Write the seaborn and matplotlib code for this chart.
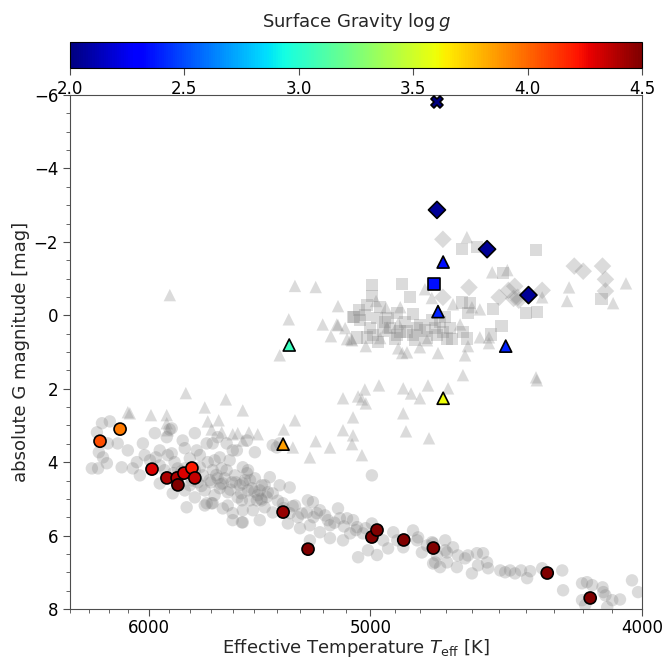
import numpy as np
import pandas as pd
import matplotlib
matplotlib.use("Agg")
import matplotlib.pyplot as plt
import matplotlib.ticker as mticker
import seaborn as sns

# --- background sample (grey) : Teff [K], absolute G mag ---
circ_teff = [6234, 6194, 6260, 6250, 6229, 6209, 6286, 6254, 6204, 6154, 6134, 6103, 6078, 6043, 6028,
             5969, 5964, 5945, 5911, 5897, 5887, 5882, 5815, 5834, 5824, 5776, 5767, 5752, 5720, 5692,
             5692, 5659, 5645, 5627, 5599, 5580, 5553, 5557, 5534, 5529, 5887, 5720, 5669, 5627, 5599,
             5534, 5498, 5418, 5400, 5387, 5729, 5697, 5645, 5599, 5557,
             5993, 5945, 5921, 5873, 5849, 5824, 5800, 5776, 5762, 5752, 5738, 5729, 5715, 5706, 5692,
             5683, 5669, 5659, 5650, 5636, 5622, 5613, 5603, 5589, 5576, 5566, 5553, 5543, 5520, 5511,
             5498, 5485, 5683, 5800, 5858, 5906, 5945, 6019, 6058, 5824, 5776, 5622, 5467, 5454, 5440,
             5529, 5553, 5520, 5467, 5431, 5387, 5343, 5489, 5454, 5553, 5476, 5418, 5351, 5307, 5298,
             5264, 5242, 5255, 5225, 5212, 5169, 5169, 5135, 5097, 5084, 5055, 5051, 5031, 5010, 4994,
             4994, 4973, 4948, 4928, 4907, 4891, 4867, 4828, 4812, 4793, 4773, 4753, 4734, 4749, 4808,
             5476, 5507, 5418, 5343, 5268, 5178, 5072, 5373, 5320, 5212, 5127, 5255, 5114,
             4749, 4702, 4702, 4672, 4741, 4722, 4695, 4653, 4657, 4626, 4615, 4581, 4558, 4577, 4543,
             4539, 4600, 4476, 4458, 4440, 4418, 4396, 4385, 4342, 4271, 4268, 4202, 4185, 4167, 4132,
             4129, 4122, 4099, 4073, 4202, 4191, 4116, 4033, 4013, 4494, 4695,
             5880, 5860, 5840, 5790, 5745, 5700, 5675, 5655, 5610, 5585, 5560, 5500, 5470, 5445, 5395,
             5370, 5330, 5290, 5240, 5190, 5150, 5110, 5060, 5020]
circ_mag = [2.94, 2.89, 3.19, 3.73, 3.87, 4.03, 4.17, 4.17, 3.49, 3.49, 4.14, 3.68, 4.17, 4.36, 3.49,
            3.21, 3.87, 4.58, 3.32, 3.11, 3.76, 4.85, 5.23, 3.41, 3.62, 3.21, 3.68, 4.14, 5.12, 3.49,
            5.12, 3.87, 4.58, 4.22, 5.39, 3.68, 5.64, 5.04, 4.30, 4.77, 3.08, 3.49, 3.32, 3.49, 3.68,
            3.41, 3.73, 3.54, 3.60, 3.49, 5.18, 5.12, 5.26, 5.58, 5.64,
            3.95, 4.09, 4.22, 4.00, 4.36, 4.17, 3.90, 4.22, 4.55, 3.81, 4.36, 4.77, 4.00, 4.49, 4.22,
            4.90, 4.44, 4.71, 4.17, 4.44, 4.82, 3.95, 4.55, 4.36, 4.96, 4.63, 4.14, 4.49, 5.04, 4.71,
            4.44, 4.90, 3.95, 4.63, 4.17, 3.81, 3.68, 3.81, 4.00, 4.77, 4.96, 5.18, 5.04, 4.63, 4.82,
            4.22, 4.58, 4.49, 4.63, 4.41, 4.63, 4.69, 5.04, 5.23, 5.31, 5.58, 5.37, 5.67, 5.50, 5.80,
            5.04, 5.09, 5.72, 5.39, 5.91, 5.72, 6.07, 5.26, 5.53, 5.94, 5.77, 6.59, 5.94, 6.40, 5.67,
            4.36, 6.53, 6.13, 6.35, 5.91, 6.13, 6.32, 5.86, 6.13, 6.46, 6.27, 6.18, 6.54, 6.76, 6.05,
            4.77, 5.31, 4.85, 5.39, 5.37, 5.58, 5.58, 5.12, 5.18, 5.31, 5.53, 6.13, 6.13,
            6.21, 6.13, 6.40, 6.32, 6.73, 6.86, 6.73, 6.54, 6.86, 6.62, 6.54, 6.48, 6.48, 6.81, 6.73,
            6.89, 7.03, 7.00, 6.95, 7.03, 6.95, 7.16, 6.97, 6.89, 6.95, 7.49, 7.30, 7.27, 7.35, 7.41,
            7.54, 7.63, 7.76, 7.74, 7.76, 7.89, 7.95, 7.22, 7.54, 6.95, 6.46,
            4.30, 4.55, 4.25, 4.50, 4.65, 4.55, 4.35, 4.60, 4.75, 4.55, 4.85, 4.80, 5.00, 4.95, 5.05,
            5.25, 5.20, 5.40, 5.50, 5.45, 5.65, 5.75, 5.85, 5.80]

tri_teff = [5896, 5320, 5230, 5135, 5347, 5200, 5140, 5105, 5165, 5080, 5387, 5819, 5631, 5729, 5553,
            5988, 5911, 6103, 5911, 5715, 5664, 5906, 5697, 5650, 5599, 5576, 5525, 5485, 5553, 5320,
            5369, 5329, 5230, 5255, 5169, 6093, 5114, 5051, 5114, 5072, 5076, 5072, 4634, 4361, 4965,
            5023, 4867, 4836, 4769, 4691, 4801, 5035, 5019, 4867, 4856, 4765, 5035, 5135, 5076, 4977,
            4936, 4879, 5019, 4887, 4871, 4852, 4781, 4754, 4773, 4730, 4672, 4645, 4626, 4887, 5097,
            4932, 4619, 4524, 4468, 4247, 4254, 4096, 4053, 4342, 4600, 4570, 4615, 4570, 4536, 4536,
            4801, 4960, 4364]
tri_mag = [-0.55, -0.80, -0.77, -0.25, 0.11, 0.25, 0.25, 0.35, 0.57, 0.65, 1.09, 2.12, 2.29, 2.51, 2.59,
           2.72, 2.72, 2.64, 2.94, 2.89, 2.86, 3.13, 3.11, 3.19, 3.24, 3.21, 3.19, 3.24, 3.41, 2.86,
           3.11, 3.60, 3.43, 3.87, 3.60, 2.67, 2.26, 2.21, 3.13, 3.27, 3.51, 2.78, 1.63, 1.77, 1.91,
           2.02, 1.99, 2.13, 1.91, 1.99, 2.26, 2.29, 2.40, 2.67, 3.16, 3.35, 3.81, 0.27, 0.68, -0.39,
           -0.20, -0.22, 0.84, 0.90, 1.03, 1.01, -0.71, -0.47, 0.68, 1.03, -0.30, 0.25, 1.09, 0.22, 0.65,
           0.33, -2.13, -1.17, -1.23, -0.76, -0.39, -0.33, -0.87, -0.49, -0.22, -0.16, 0.84, 0.60, 0.60, 0.76,
           0.87, 0.62, 1.69]

sq_teff = [4994, 4871, 4840, 4994, 5015, 4960, 5023, 4891, 4828, 5068, 5043, 4973, 4940, 4754, 4702,
           5002, 4948, 4920, 4879, 4852, 4812, 4781, 4742, 4711, 4683, 4990, 5015, 4891, 4828, 4773,
           4734, 4695, 4676, 5055, 4820, 4638, 4608, 4615, 4634, 4619, 4638, 4581, 4364, 4483, 4520,
           4490, 4400, 4360, 4136, 4528, 5072, 5047, 4928, 4860, 4801, 4722, 4899, 4969]
sq_mag = [-0.83, -0.86, -0.50, -0.53, -0.28, -0.22, -0.01, -0.06, -0.04, 0.05, 0.13, 0.08, 0.18, 0.13, 0.05,
          0.35, 0.41, 0.35, 0.44, 0.44, 0.35, 0.41, 0.35, 0.46, 0.35, 0.54, 0.60, 0.54, 0.54, 0.60,
          0.54, 0.63, 0.65, 0.60, 0.68, -0.35, -0.33, -0.06, 0.46, 0.63, -1.80, -1.86, -1.78, -1.15, -0.17,
          0.29, -0.06, -0.09, -0.44, 0.52, 0.05, -0.14, 0.08, 0.18, 0.27, 0.18, 0.63, 0.73]

dia_teff = [4711, 4611, 4711, 4498, 4464, 4441, 4445, 4430, 4342, 4229, 4198, 4132, 4122, 4122, 4426]
dia_mag = [-2.07, -0.76, -0.49, -0.49, -0.68, -0.79, -0.46, -0.49, -0.68, -1.34, -1.20, -1.34, -0.98, -0.66, -0.41]

# --- highlighted stars, coloured by log g ---
star_kind = ['X', 'D', 'D', 'D', '^', 's', '^', '^', '^', '^', '^',
             'o', 'o', 'o', 'o', 'o', 'o', 'o', 'o', 'o', 'o', 'o', 'o', 'o', 'o', 'o', 'o', 'o']
star_teff = [4734, 4734, 4543, 4391, 4710, 4745, 4730, 4474, 5345, 4710, 5372,
             6244, 6142, 5983, 5910, 5861, 5857, 5828, 5790, 5776, 5372, 5263, 4994, 4973, 4865, 4748, 4324, 4174]
star_mag = [-5.81, -2.87, -1.80, -0.55, -1.45, -0.85, -0.10, 0.84, 0.81, 2.26, 3.51,
            3.43, 3.10, 4.19, 4.43, 4.43, 4.62, 4.30, 4.16, 4.43, 5.36, 6.37, 6.04, 5.85, 6.12, 6.34, 7.02, 7.70]
star_logg = [2.0, 2.05, 2.05, 2.05, 2.35, 2.35, 2.4, 2.4, 3.05, 3.6, 3.85,
             4.07, 3.95, 4.3, 4.4, 4.4, 4.5, 4.3, 4.2, 4.35, 4.45, 4.5, 4.5, 4.5, 4.5, 4.5, 4.5, 4.5]

cbar_ticks = [2.0, 2.5, 3.0, 3.5, 4.0, 4.5]

sns.set_style("ticks")
plt.rcParams['font.family'] = ['DejaVu Sans']
plt.rcParams['font.size'] = 12
plt.rcParams['axes.edgecolor'] = '0.3'
plt.rcParams['xtick.color'] = '0.3'
plt.rcParams['ytick.color'] = '0.3'
plt.rcParams['xtick.labelcolor'] = 'black'
plt.rcParams['ytick.labelcolor'] = 'black'

jet = matplotlib.colormaps['jet']

bg = pd.concat([
    pd.DataFrame({'teff': circ_teff, 'mag': circ_mag, 'kind': 'o'}),
    pd.DataFrame({'teff': tri_teff, 'mag': tri_mag, 'kind': '^'}),
    pd.DataFrame({'teff': sq_teff, 'mag': sq_mag, 'kind': 's'}),
    pd.DataFrame({'teff': dia_teff, 'mag': dia_mag, 'kind': 'D'}),
], ignore_index=True)
fg = pd.DataFrame({'teff': star_teff, 'mag': star_mag, 'kind': star_kind, 'logg': star_logg})

markers = {'o': 'o', '^': '^', 's': 's', 'D': 'D', 'X': 'X'}

fig = plt.figure(figsize=(6.65, 6.59), dpi=100)
ax = fig.add_axes([70 / 665, 1 - 609 / 659, 572 / 665, 514 / 659])
cax = fig.add_axes([70 / 665, 1 - 68 / 659, 572 / 665, 26 / 659])

sns.scatterplot(data=bg, x='teff', y='mag', style='kind', markers=markers, color='gray',
                alpha=0.28, s=80, linewidth=0, legend=False, ax=ax, zorder=1)
sns.scatterplot(data=fg, x='teff', y='mag', hue='logg', palette=jet, hue_norm=(2.0, 4.5),
                style='kind', markers=markers, s=75, edgecolor='black', linewidth=1.2,
                legend=False, ax=ax, zorder=3)

ax.set_xscale('log')
ax.set_xlim(6400, 4000)
ax.set_ylim(8, -6)
ax.xaxis.set_major_locator(mticker.FixedLocator([4000, 5000, 6000]))
ax.xaxis.set_major_formatter(mticker.FormatStrFormatter('%d'))
ax.xaxis.set_minor_locator(mticker.MultipleLocator(100))
ax.xaxis.set_minor_formatter(mticker.NullFormatter())
ax.yaxis.set_major_locator(mticker.MultipleLocator(2))
ax.yaxis.set_minor_locator(mticker.MultipleLocator(0.5))
ax.tick_params(which='major', length=5, labelsize=12)
ax.tick_params(which='minor', length=3)
ax.tick_params(axis='x', which='major', pad=2)
ax.set_xlabel(r'Effective Temperature $T_{\rm eff}$ [K]', fontsize=13, labelpad=0)
ax.set_ylabel('absolute G magnitude [mag]', fontsize=13, labelpad=3)

sm = plt.cm.ScalarMappable(cmap=jet, norm=plt.Normalize(2.0, 4.5))
cb = fig.colorbar(sm, cax=cax, orientation='horizontal', ticks=cbar_ticks)
cb.ax.xaxis.set_ticks_position('bottom')
cb.ax.xaxis.set_label_position('top')
cb.ax.tick_params(labelsize=12, length=5)
cb.set_label(r'Surface Gravity $\log g$', fontsize=13, labelpad=11)
cb.outline.set_edgecolor('black')

fig.savefig('out.png', dpi=100)
